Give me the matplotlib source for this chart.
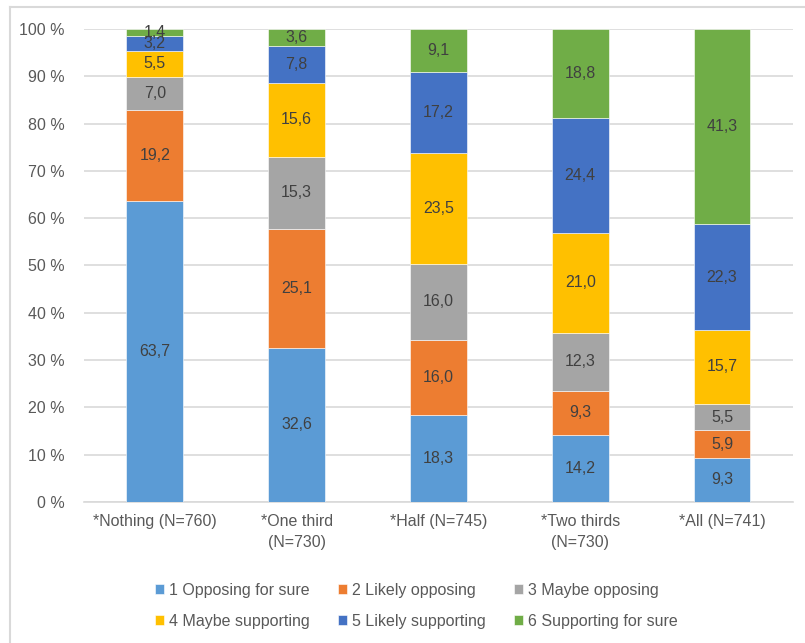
import numpy as np
import matplotlib.pyplot as plt
from matplotlib.lines import Line2D

plt.rcParams['font.family'] = ['Liberation Sans', 'DejaVu Sans']

categories = ['*Nothing (N=760)', '*One third\n(N=730)', '*Half (N=745)',
              '*Two thirds\n(N=730)', '*All (N=741)']
series_names = ['1 Opposing for sure', '2 Likely opposing', '3 Maybe opposing',
                '4 Maybe supporting', '5 Likely supporting', '6 Supporting for sure']
opposing_sure = [63.7, 32.6, 18.3, 14.2, 9.3]
likely_opposing = [19.2, 25.1, 16.0, 9.3, 5.9]
maybe_opposing = [7.0, 15.3, 16.0, 12.3, 5.5]
maybe_supporting = [5.5, 15.6, 23.5, 21.0, 15.7]
likely_supporting = [3.2, 7.8, 17.2, 24.4, 22.3]
supporting_sure = [1.4, 3.6, 9.1, 18.8, 41.3]

colors = ['#5B9BD5', '#ED7D31', '#A5A5A5', '#FFC000', '#4472C4', '#70AD47']

series = [opposing_sure, likely_opposing, maybe_opposing,
          maybe_supporting, likely_supporting, supporting_sure]

fig = plt.figure(figsize=(8.05, 6.43), dpi=100)
ax = fig.add_axes([0.1043, 0.2193, 0.8807, 0.7356])

x = np.arange(len(categories))
bottom = np.zeros(len(categories))
handles = []
for name, vals, col in zip(series_names, series, colors):
    vals = np.array(vals)
    bars = ax.bar(x, vals, 0.4, bottom=bottom, color=col, edgecolor='white',
                  linewidth=0.4, label=name, zorder=3)
    for xi, b, v in zip(x, bottom, vals):
        ax.text(xi, b + v / 2, f'{v:.1f}'.replace('.', ','), ha='center',
                va='center', fontsize=11.5, color='#404040', zorder=4)
    bottom += vals
    handles.append(bars)

ax.set_ylim(0, 100)
ax.set_xlim(-0.5, len(categories) - 0.5)
ax.set_yticks(np.arange(0, 101, 10))
ax.set_yticklabels([f'{v} %' for v in range(0, 101, 10)])
ax.set_xticks(x)
ax.set_xticklabels(categories, linespacing=1.5)
ax.tick_params(axis='both', length=0, labelsize=11.5, labelcolor='#595959')
ax.tick_params(axis='x', pad=9)
ax.tick_params(axis='y', pad=14)
ax.yaxis.grid(True, color='#D9D9D9', linewidth=1.2, zorder=0)
for s in ['top', 'right', 'left']:
    ax.spines[s].set_visible(False)
ax.spines['bottom'].set_color('#D9D9D9')
ax.spines['bottom'].set_linewidth(1.2)

# legend: rows 1-2-3 / 4-5-6 (matplotlib fills by column)
order = [0, 3, 1, 4, 2, 5]
leg = fig.legend([handles[i] for i in order], [series_names[i] for i in order],
                 ncol=3, loc='center', bbox_to_anchor=(0.517, 0.058),
                 frameon=False, fontsize=11.5, handlelength=0.6, handleheight=0.6,
                 handletextpad=0.3, columnspacing=1.75, labelspacing=1.0)
for t in leg.get_texts():
    t.set_color('#595959')

# outer frame lines
fig.add_artist(Line2D([10 / 805, 10 / 805], [0, 1 - 7 / 643], transform=fig.transFigure,
                      color='#D9D9D9', linewidth=1.5))
fig.add_artist(Line2D([10 / 805, 1], [1 - 7 / 643, 1 - 7 / 643], transform=fig.transFigure,
                      color='#D9D9D9', linewidth=1.5))

fig.savefig('out.png', dpi=100)
